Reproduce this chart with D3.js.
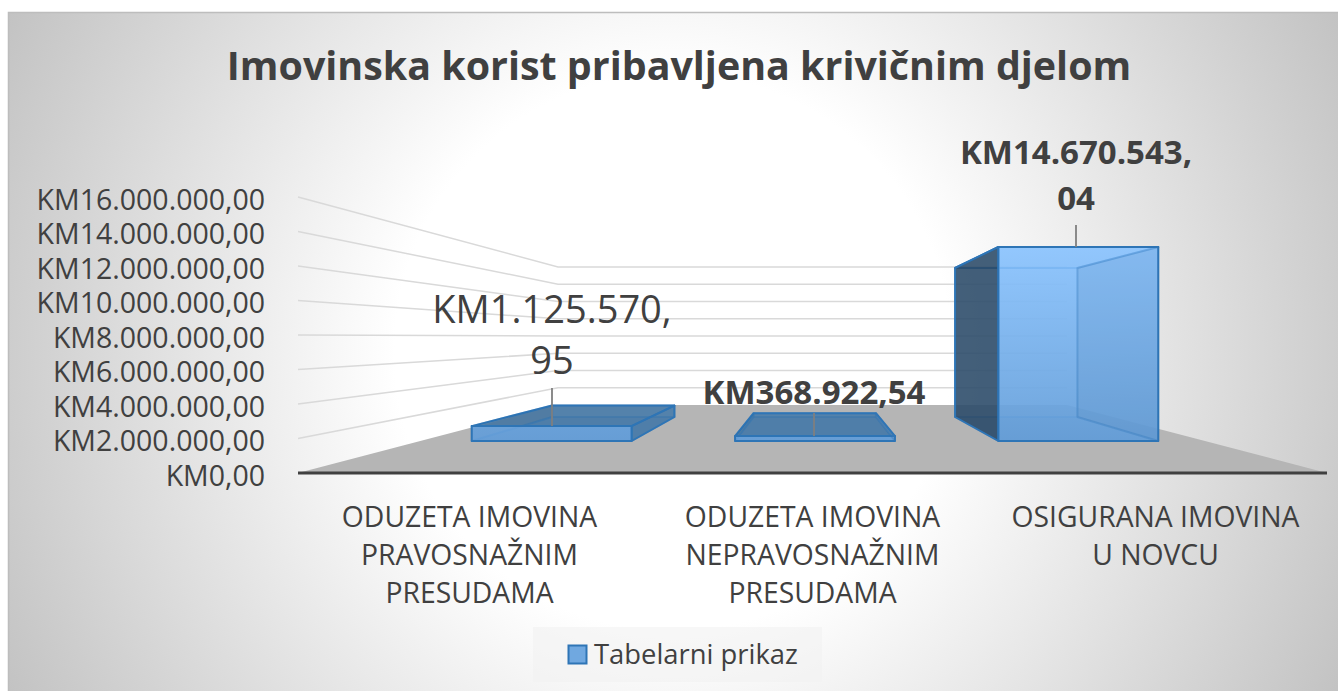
<!DOCTYPE html>
<html>
<head>
<meta charset="utf-8">
<title>Imovinska korist</title>
<script src="https://cdnjs.cloudflare.com/ajax/libs/d3/7.9.0/d3.min.js"></script>
<style>
    html, body { margin: 0; padding: 0; background: #fff; }
    svg { display: block; }
    text { font-family: "Open Sans", sans-serif; fill: #404040; }
</style>
</head>
<body>
<div id="container"></div>
<script>
const chartTitle = 'Imovinska korist pribavljena krivičnim djelom';
const seriesName = 'Tabelarni prikaz';
const categories = [
    'ODUZETA IMOVINA PRAVOSNAŽNIM PRESUDAMA',
    'ODUZETA IMOVINA NEPRAVOSNAŽNIM PRESUDAMA',
    'OSIGURANA IMOVINA U NOVCU'
];
const categoryLines = [
    ['ODUZETA IMOVINA', 'PRAVOSNAŽNIM', 'PRESUDAMA'],
    ['ODUZETA IMOVINA', 'NEPRAVOSNAŽNIM', 'PRESUDAMA'],
    ['OSIGURANA IMOVINA', 'U NOVCU']
];
const values = [1125570.95, 368922.54, 14670543.04];
const valueLabels = [
    ['KM1.125.570,', '95'],
    ['KM368.922,54'],
    ['KM14.670.543,', '04']
];
const tickValues = [0, 2000000, 4000000, 6000000, 8000000, 10000000, 12000000, 14000000, 16000000];

const width = 1338;
const height = 691;

const locale = d3.formatLocale({
    decimal: ',', thousands: '.', grouping: [3], currency: ['KM', '']
});
const tickFormat = locale.format('$,.2f');

const svg = d3.select('#container').append('svg')
    .attr('width', width)
    .attr('height', height);

// ---------- BACKGROUND ----------
const defs = svg.append('defs');

const bgGrad = defs.append('radialGradient')
    .attr('id', 'bg')
    .attr('gradientUnits', 'userSpaceOnUse')
    .attr('cx', 673).attr('cy', 352).attr('r', 752);
bgGrad.append('stop').attr('offset', '37%').attr('stop-color', '#ffffff');
bgGrad.append('stop').attr('offset', '100%').attr('stop-color', '#c2c2c2');

const frontGrad = defs.append('linearGradient')
    .attr('id', 'barFront')
    .attr('gradientUnits', 'userSpaceOnUse')
    .attr('x1', 0).attr('y1', 247).attr('x2', 0).attr('y2', 441);
frontGrad.append('stop').attr('offset', '0%').attr('stop-color', '#89c3ff');
frontGrad.append('stop').attr('offset', '100%').attr('stop-color', '#629dd9');

svg.append('rect')
    .attr('x', 8).attr('y', 13)
    .attr('width', width - 8).attr('height', height - 13)
    .attr('fill', 'url(#bg)');
svg.append('path')
    .attr('d', d3.line()([[8.5, height], [8.5, 12.5], [width, 12.5]]))
    .attr('fill', 'none')
    .attr('stroke', '#bdbdbd')
    .attr('stroke-width', 1.5);

// ---------- SCALES ----------
// the wall and floor are a fake 3D box: one scale for the front edge, one for the back
const yFront = d3.scaleLinear().domain([0, 16000000]).range([473, 197]);
const yBack = d3.scaleLinear().domain([0, 16000000]).range([405, 267]);
const floorFront = [298, 1327];
const floorBack = [558, 1067];

const xCategory = d3.scaleBand().domain(categories).range(floorFront);

// bars stand on their own smaller box inside the floor
const xBar = d3.scaleBand()
    .domain(categories)
    .range([420, 1210])
    .paddingInner(0.393)
    .paddingOuter(0.1965);
const xBarBack = d3.scaleLinear().domain([420, 1210]).range([512.5, 1117]);
const yBarFront = d3.scaleLinear().domain([0, 16000000]).range([441, 229.4]);
const yBarBack = d3.scaleLinear().domain([0, 16000000]).range([417, 254.5]);

// data labels sit a little off the bar centres
const xLabel = d3.scalePoint().domain(categories).range([552, 1076]);

// ---------- WALLS ----------
svg.append('g')
    .selectAll('path')
    .data(tickValues.filter(d => d > 0))
    .join('path')
    .attr('d', d => d3.line()([
        [floorFront[0], yFront(d)],
        [floorBack[0], yBack(d)],
        [floorBack[1], yBack(d)]
    ]))
    .attr('fill', 'none')
    .attr('stroke', '#d9d9d9')
    .attr('stroke-width', 1.5);

svg.append('path')
    .attr('d', d3.line()([
        [floorFront[0], yFront(0)],
        [floorBack[0], yBack(0)],
        [floorBack[1], yBack(0)],
        [floorFront[1], yFront(0)]
    ]) + 'Z')
    .attr('fill', '#b5b5b5');

svg.append('line')
    .attr('x1', floorFront[0]).attr('x2', floorFront[1])
    .attr('y1', yFront(0)).attr('y2', yFront(0))
    .attr('stroke', '#404040')
    .attr('stroke-width', 3);

// ---------- AXES ----------
const yAxis = svg.append('g')
    .attr('transform', 'translate(265,3)')
    .call(d3.axisLeft(yFront).tickValues(tickValues).tickFormat(tickFormat).tickSize(0).tickPadding(0));
yAxis.select('.domain').remove();
yAxis.selectAll('text')
    .attr('font-size', 28.5)
    .style('font-family', '"Open Sans", sans-serif')
    .style('fill', '#404040');

svg.append('g')
    .selectAll('text')
    .data(categories)
    .join('text')
    .attr('text-anchor', 'middle')
    .attr('font-size', 28.3)
    .each(function (d, i) {
        d3.select(this).selectAll('tspan')
            .data(categoryLines[i])
            .join('tspan')
            .attr('x', xCategory(d) + xCategory.bandwidth() / 2)
            .attr('y', (l, j) => 527 + j * 38)
            .text(l => l);
    });

// ---------- BARS ----------
function barFaces(cat, value) {
    const x0 = xBar(cat);
    const x1 = x0 + xBar.bandwidth();
    const f = { l: x0, r: x1, t: yBarFront(value), b: yBarFront(0) };
    const k = { l: xBarBack(x0), r: xBarBack(x1), t: yBarBack(value), b: yBarBack(0) };
    const right = [[f.r, f.t], [k.r, k.t], [k.r, k.b], [f.r, f.b]];
    // faces turned away from the viewer only show faintly through the front
    const faces = [
        { pts: [[k.l, k.t], [k.r, k.t], [k.r, k.b], [k.l, k.b]], fill: '#5b9bd5', opacity: 0.12, line: 0.35 },
        { pts: [[k.l, k.b], [k.r, k.b], [f.r, f.b], [f.l, f.b]], fill: '#3f76a8', opacity: 0.3, line: 0.35 },
        { pts: [[f.l, f.t], [f.r, f.t], [k.r, k.t], [k.l, k.t]], fill: '#3f76a8', opacity: k.t < f.t ? 0.8 : 0.05, line: 1 },
        { pts: [[f.l, f.t], [k.l, k.t], [k.l, k.b], [f.l, f.b]], fill: '#2b4a68', opacity: k.l < f.l ? 0.88 : 0.1, line: k.l < f.l ? 1 : 0.35 }
    ];
    if (k.r > f.r) faces.push({ pts: right, fill: '#3f76a8', opacity: 0.8, line: 1 });
    faces.push({ pts: [[f.l, f.t], [f.r, f.t], [f.r, f.b], [f.l, f.b]], fill: 'url(#barFront)', opacity: 0.9, line: 1 });
    if (k.r <= f.r) faces.push({ pts: right, fill: '#4f86be', opacity: 0.2, line: 0.3 });
    return faces;
}

const bars = svg.append('g')
    .selectAll('g')
    .data(categories)
    .join('g');

bars.selectAll('path')
    .data((d, i) => barFaces(d, values[i]))
    .join('path')
    .attr('d', d => d3.line()(d.pts) + 'Z')
    .attr('fill', d => d.fill)
    .attr('fill-opacity', d => d.opacity)
    .attr('stroke', '#2e75b6')
    .attr('stroke-opacity', d => d.line)
    .attr('stroke-width', 2)
    .attr('stroke-linejoin', 'round');

// ---------- LABELS ----------
const leaderTops = [388, 413, 225];
const labelBaselines = [323, 404, 164];
const labelLineSteps = [51, 0, 46];
const labelSizes = [38, 33, 33];
const labelWeights = [400, 700, 700];

svg.append('g')
    .selectAll('line')
    .data(categories)
    .join('line')
    .attr('x1', d => xLabel(d)).attr('x2', d => xLabel(d))
    .attr('y1', (d, i) => leaderTops[i])
    .attr('y2', (d, i) => yBarFront(values[i]))
    .attr('stroke', '#7f7f7f')
    .attr('stroke-width', 1.8);

svg.append('g')
    .selectAll('text')
    .data(categories)
    .join('text')
    .attr('text-anchor', 'middle')
    .attr('font-size', (d, i) => labelSizes[i])
    .attr('font-weight', (d, i) => labelWeights[i])
    .each(function (d, i) {
        d3.select(this).selectAll('tspan')
            .data(valueLabels[i])
            .join('tspan')
            .attr('x', xLabel(d))
            .attr('y', (l, j) => labelBaselines[i] + j * labelLineSteps[i])
            .text(l => l);
    });

// ---------- TITLE ----------
svg.append('text')
    .attr('x', 679)
    .attr('y', 80)
    .attr('text-anchor', 'middle')
    .attr('font-size', 39.4)
    .attr('font-weight', 700)
    .text(chartTitle);

// ---------- LEGEND ----------
const legend = svg.append('g');
legend.append('rect')
    .attr('x', 533).attr('y', 627)
    .attr('width', 289).attr('height', 55)
    .attr('fill', '#f2f2f2')
    .attr('fill-opacity', 0.6);
legend.append('rect')
    .attr('x', 568.5).attr('y', 645.5)
    .attr('width', 18).attr('height', 18)
    .attr('fill', '#70a8e0')
    .attr('stroke', '#2e75b6')
    .attr('stroke-width', 2);
legend.append('text')
    .attr('x', 594)
    .attr('y', 664)
    .attr('font-size', 27.4)
    .text(seriesName);
</script>
</body>
</html>
